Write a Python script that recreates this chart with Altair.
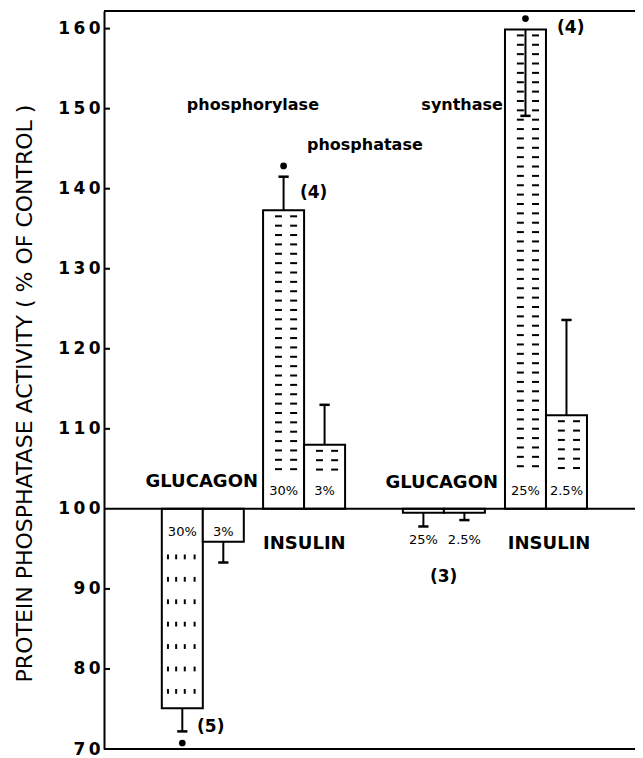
import altair as alt
import pandas as pd

# ---------------- data ----------------
enzymes = ["phosphorylase phosphatase"] * 4 + ["synthase phosphatase"] * 4
hormones = ["GLUCAGON", "GLUCAGON", "INSULIN", "INSULIN"] * 2
doses = ["30%", "3%", "30%", "3%", "25%", "2.5%", "25%", "2.5%"]
activity = [75.1, 95.9, 137.3, 108.0, 99.5, 99.5, 159.9, 111.7]
error_end = [72.2, 93.3, 141.5, 113.0, 97.8, 98.6, 149.1, 123.6]
significant = [True, False, True, False, False, False, True, False]
fill_pattern = ["ticks", "none", "dashes", "dashes", "none", "none", "dashes", "dashes"]
n_text = ["(5)", "(4)", "(3)", "(4)"]
y_ticks = [70, 80, 90, 100, 110, 120, 130, 140, 150, 160]
y_title = "PROTEIN PHOSPHATASE ACTIVITY ( % OF CONTROL )"

# ---------------- layout ----------------
SLOT_PX = 41
W, H = 531, 738
X_MAX = W / SLOT_PX
Y_MIN, Y_MAX = 70, 162.2
group_left = [1.41, 3.88, 7.29, 9.78]

xs = alt.Scale(domain=[0, X_MAX], nice=False, zero=False)
ys = alt.Scale(domain=[Y_MIN, Y_MAX], nice=False, zero=False)

axis_y = alt.Axis(values=y_ticks, tickSize=0, labelPadding=4, domainWidth=2,
                  domainColor="black", labelFont="DejaVu Sans", labelFontWeight="bold",
                  labelFontSize=17, labelColor="black",
                  labelExpr="join(split(datum.label, ''), '\u2009')",
                  title=y_title, titleFont="DejaVu Sans", titleFontSize=22,
                  titleFontWeight="normal", titleColor="black",
                  titleX=-80, titleY=382, titleAlign="center", titleBaseline="middle",
                  grid=False)


def X(f):
    return alt.X(f, type="quantitative", scale=xs, axis=None)


def X2(f):
    return alt.X2(f)


def Y(f):
    return alt.Y(f, type="quantitative", scale=ys, axis=axis_y)


def Y2(f):
    return alt.Y2(f)


rows = []
for i in range(8):
    left = group_left[i // 2] + (i % 2)
    v, e = activity[i], error_end[i]
    if v >= 100:
        ly = 102.25
        dot = max(v, e) + 1.35
    else:
        ly = 97.1 if v < 98 else 96.1
        dot = min(v, e) - 1.45
    rows.append(dict(enzyme=enzymes[i], hormone=hormones[i], dose=doses[i],
                     left=left, right=left + 1, center=left + 0.5,
                     base=100, value=v, err=e,
                     capl=left + 0.5 - 0.125, capr=left + 0.5 + 0.125,
                     labely=ly, doty=dot, sig=significant[i]))
bars = pd.DataFrame(rows)

# fill patterns (decoration)
dash_rows, tick_rows = [], []
for i, p in enumerate(fill_pattern):
    left = group_left[i // 2] + (i % 2)
    v = activity[i]
    if p == "dashes":
        yv = v - 0.75
        while yv >= 104.6:
            for a, b in [(0.29, 0.46), (0.66, 0.83)]:
                dash_rows.append(dict(x=left + a, x2=left + b, y=yv))
            yv -= 1.17
    elif p == "ticks":
        yv = 94.3
        while yv >= 77:
            for a in [0.15, 0.35, 0.56, 0.8]:
                tick_rows.append(dict(x=left + a, y=yv, y2=yv - 0.6))
            yv -= 2.8
dashes = pd.DataFrame(dash_rows)
ticks = pd.DataFrame(tick_rows)

# frame lines
frame = pd.DataFrame(dict(x=[0, 0, 0], x2=[X_MAX, X_MAX, X_MAX], y=[Y_MAX, 100, Y_MIN]))
frame_layer = alt.Chart(frame).mark_rule(color="black", strokeWidth=2).encode(
    x=X("x"), x2=X2("x2"), y=Y("y"))

tick_df = pd.DataFrame(dict(y=[v for v in y_ticks if v not in (70, 100)]))
axis_ticks = alt.Chart(tick_df).mark_rule(color="black", strokeWidth=2).encode(
    x=alt.value(0), x2=alt.value(6), y=Y("y"))

bar_layer = alt.Chart(bars).mark_rect(fill="white", stroke="black", strokeWidth=2).encode(
    x=X("left"), x2=X2("right"), y=Y("base"), y2=Y2("value"))

dash_layer = alt.Chart(dashes).mark_rule(color="black", strokeWidth=2).encode(
    x=X("x"), x2=X2("x2"), y=Y("y"))
tick_layer = alt.Chart(ticks).mark_rule(color="black", strokeWidth=2).encode(
    x=X("x"), y=Y("y"), y2=Y2("y2"))

err_layer = alt.Chart(bars).mark_rule(color="black", strokeWidth=2).encode(
    x=X("center"), y=Y("value"), y2=Y2("err"))
cap_layer = alt.Chart(bars).mark_rule(color="black", strokeWidth=2.5).encode(
    x=X("capl"), x2=X2("capr"), y=Y("err"))
dot_layer = alt.Chart(bars[bars.sig]).mark_circle(color="black", size=45, opacity=1).encode(
    x=X("center"), y=Y("doty"))

pct_layer = alt.Chart(bars).mark_text(font="DejaVu Sans", fontSize=13, color="black",
                                      baseline="middle", align="center").encode(
    x=X("center"), y=Y("labely"), text="dose")

# annotations
ann_right_big = pd.DataFrame(dict(text=["GLUCAGON", "GLUCAGON"], x=[3.756, 9.61], y=[103.4, 103.2]))
ann_left_big = pd.DataFrame(dict(text=["INSULIN", "INSULIN"], x=[3.88, 9.85], y=[95.6, 95.6]))
ann_left_enz = pd.DataFrame(dict(text=["phosphorylase", "phosphatase"], x=[2.02, 4.95], y=[150.5, 145.5]))
ann_right_enz = pd.DataFrame(dict(text=["synthase"], x=[9.73], y=[150.5]))
ann_n = pd.DataFrame(dict(text=n_text, x=[2.27, 4.78, 7.95, 11.05], y=[72.8, 139.5, 91.5, 160.1]))


def text_layer(df, align, size):
    return alt.Chart(df).mark_text(font="DejaVu Sans", fontWeight="bold", fontSize=size,
                                   color="black", align=align, baseline="middle").encode(
        x=X("x"), y=Y("y"), text="text")


chart = alt.layer(
    bar_layer, dash_layer, tick_layer, err_layer, cap_layer, dot_layer,
    frame_layer, axis_ticks, pct_layer,
    text_layer(ann_right_big, "right", 18),
    text_layer(ann_left_big, "left", 18),
    text_layer(ann_left_enz, "left", 16),
    text_layer(ann_right_enz, "right", 16),
    text_layer(ann_n, "left", 17),
).properties(
    width=W, height=H,
    autosize=alt.AutoSizeParams(type="none"),
    padding={"left": 96, "top": 3, "right": 0, "bottom": 9},
).configure_view(stroke=None)

chart.save("out.html", embed_options={"renderer": "svg", "actions": False})
